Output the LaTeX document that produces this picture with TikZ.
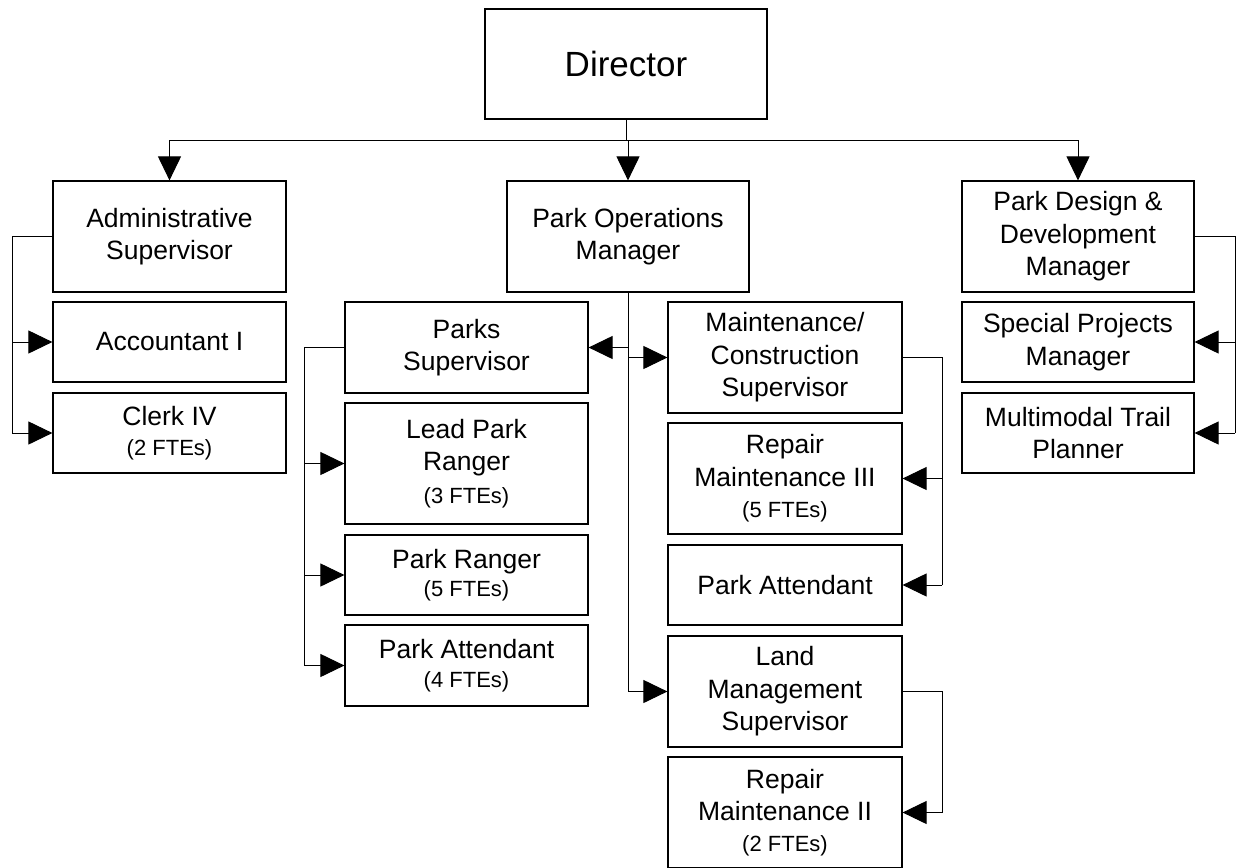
\documentclass[tikz,border=0pt]{standalone}
\usepackage{fontspec}
\setmainfont{Liberation Sans}
\usetikzlibrary{arrows.meta}
\newcommand\ftesize{\fontsize{22}{27}\selectfont}
\begin{document}
\begin{tikzpicture}[x=1pt,y=-1pt,
  box/.style={draw=black, line width=1.2pt, fill=white, align=center, inner sep=0pt,
    font=\fontsize{26.5}{32.5}\selectfont},
  conn/.style={draw=black, line width=1pt},
  arr/.style={conn, -{Triangle[length=24pt,width=23pt]}}]
\useasboundingbox (0,0) rectangle (1236,867);
% boxes
\node[box, minimum width=282, minimum height=110] (dir) at (626,64) {\fontsize{35}{40}\selectfont Director};
\node[box, minimum width=233, minimum height=111] (admin) at (169.5,236.5) {Administrative\\Supervisor};
\node[box, minimum width=233, minimum height=80] (acct) at (169.5,342) {Accountant I};
\node[box, minimum width=233, minimum height=80] (clerk) at (169.5,433) {Clerk IV\\[-3pt]{\ftesize (2 FTEs)}};
\node[box, minimum width=242, minimum height=111] (pom) at (628,236.5) {Park Operations\\Manager};
\node[box, minimum width=243, minimum height=91] (parks) at (466.5,347.5) {Parks\\Supervisor};
\node[box, minimum width=243, minimum height=121] (lead) at (466.5,463.5) {Lead Park\\Ranger\\{\ftesize (3 FTEs)}};
\node[box, minimum width=243, minimum height=80] (ranger) at (466.5,575) {Park Ranger\\[-5pt]{\ftesize (5 FTEs)}};
\node[box, minimum width=243, minimum height=81] (att4) at (466.5,665.5) {Park Attendant\\[-4pt]{\ftesize (4 FTEs)}};
\node[box, minimum width=234, minimum height=111] (maint) at (785,357.5) {Maintenance/\\Construction\\Supervisor};
\node[box, minimum width=234, minimum height=111] (rep3) at (785,478.5) {Repair\\Maintenance III\\[-1pt]{\ftesize (5 FTEs)}};
\node[box, minimum width=234, minimum height=80] (att) at (785,585) {Park Attendant};
\node[box, minimum width=234, minimum height=111] (land) at (785,691.5) {Land\\Management\\Supervisor};
\node[box, minimum width=234, minimum height=111] (rep2) at (785,812.5) {Repair\\Maintenance II\\[-2pt]{\ftesize (2 FTEs)}};
\node[box, minimum width=232, minimum height=111] (pdd) at (1078,236.5) {Park Design \&\\Development\\Manager};
\node[box, minimum width=232, minimum height=80] (spm) at (1078,342) {Special Projects\\Manager};
\node[box, minimum width=232, minimum height=80] (mtp) at (1078,433) {Multimodal Trail\\Planner};
% bus coordinates
\coordinate (bus) at (0,140);
\coordinate (lbus) at (12,0);
\coordinate (pbus) at (304,0);
\coordinate (mbus) at (942,0);
\coordinate (rbus) at (1235,0);
% director level
\draw[conn] (dir.south) -- (dir.south |- bus);
\draw[conn] (admin.north |- bus) -- (pdd.north |- bus);
\draw[arr] (admin.north |- bus) -- (admin.north);
\draw[arr] (pom.north |- bus) -- (pom.north);
\draw[arr] (pdd.north |- bus) -- (pdd.north);
% admin
\draw[conn] (admin.west) -- (admin.west -| lbus) -- (clerk.west -| lbus);
\draw[arr] (acct.west -| lbus) -- (acct.west);
\draw[arr] (clerk.west -| lbus) -- (clerk.west);
% park operations
\draw[arr] (pom.south) |- (land.west);
\draw[arr] (pom.south |- parks.east) -- (parks.east);
\draw[arr] (pom.south |- maint.west) -- (maint.west);
% parks supervisor
\draw[conn] (parks.west) -- (parks.west -| pbus) -- (att4.west -| pbus);
\draw[arr] (lead.west -| pbus) -- (lead.west);
\draw[arr] (ranger.west -| pbus) -- (ranger.west);
\draw[arr] (att4.west -| pbus) -- (att4.west);
% maintenance
\draw[conn] (maint.east) -- (maint.east -| mbus) -- (att.east -| mbus);
\draw[arr] (rep3.east -| mbus) -- (rep3.east);
\draw[arr] (att.east -| mbus) -- (att.east);
% land management
\draw[arr] (land.east) -| (mbus |- rep2.east) -- (rep2.east);
% park design
\draw[conn] (pdd.east) -- (pdd.east -| rbus) -- (mtp.east -| rbus);
\draw[arr] (spm.east -| rbus) -- (spm.east);
\draw[arr] (mtp.east -| rbus) -- (mtp.east);
\end{tikzpicture}
\end{document}
